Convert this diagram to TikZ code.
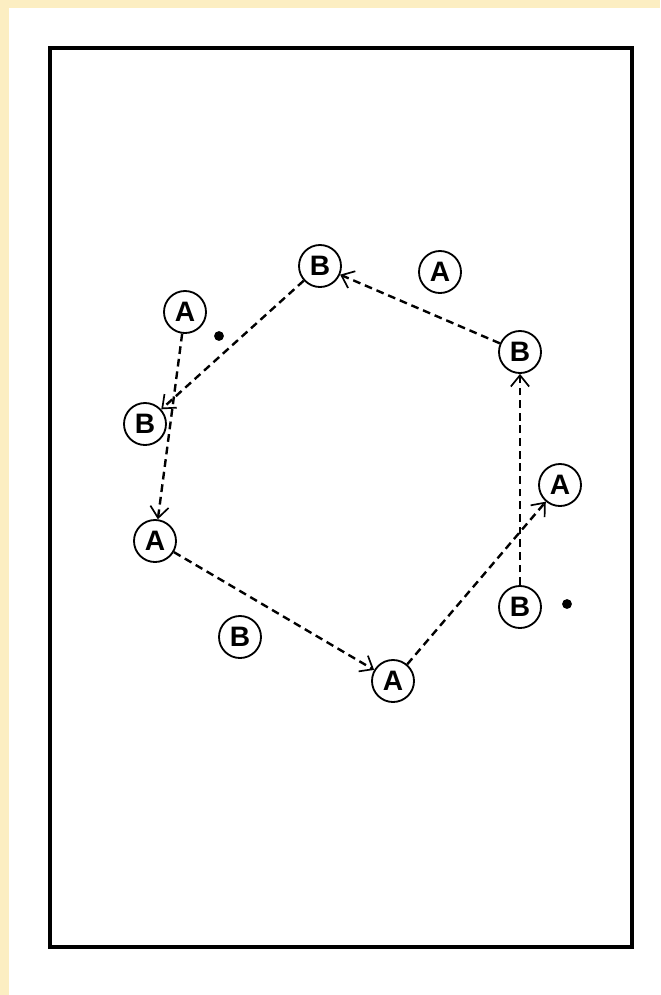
\documentclass[tikz,border=0pt]{standalone}
\usepackage{fontspec}
\setsansfont{Liberation Sans}
\usetikzlibrary{arrows.meta}
\definecolor{crema}{RGB}{252,238,194}

\begin{document}
\begin{tikzpicture}[x=0.025cm, y=-0.025cm,
        jugador/.style={circle, draw, line width=1.3pt, minimum size=1.05cm, inner sep=0pt,
            font=\sffamily\bfseries\fontsize{20}{20}\selectfont},
        pase/.style={dashed, line width=1.7pt, dash pattern=on 5.5pt off 3.5pt,
            -{Straight Barb[length=8pt, width=13pt, line width=1.2pt]}},
        punto/.style={circle, fill=black, inner sep=0pt, minimum size=7pt}]
        % Fondo y marco del campo
        \fill[crema] (0,0) rectangle (660,995);
        \fill[white] (9,8) rectangle (660,995);
        \useasboundingbox (0,0) rectangle (660,995);
        \draw[line width=2.2pt] (50,48) rectangle (632,947);

        % Jugadores A
        \node[jugador] (aArriba) at (440,272) {A};
        \node[jugador] (aIzq) at (185,312) {A};
        \node[jugador] (aDer) at (560,485) {A};
        \node[jugador] (aMedio) at (155,541) {A};
        \node[jugador] (aAbajo) at (393,681) {A};

        % Jugadores B
        \node[jugador] (bArriba) at (320,266) {B};
        \node[jugador] (bDer) at (520,352) {B};
        \node[jugador] (bIzq) at (145,424) {B};
        \node[jugador] (bAbajoDer) at (520,607) {B};
        \node[jugador] (bAbajoIzq) at (240,637) {B};

        % Balones
        \node[punto] (balonA) at (219,336) {};
        \node[punto] (balonB) at (567,604) {};

        % Pases de A
        \draw[pase] (aIzq) -- (aMedio);
        \draw[pase] (aMedio) -- (aAbajo);
        \draw[pase] (aAbajo) -- (aDer);

        % Pases de B
        \draw[pase] (bAbajoDer) -- (bDer);
        \draw[pase] (bDer) -- (bArriba);
        \draw[pase] (bArriba) -- (bIzq);
    \end{tikzpicture}
\end{document}
